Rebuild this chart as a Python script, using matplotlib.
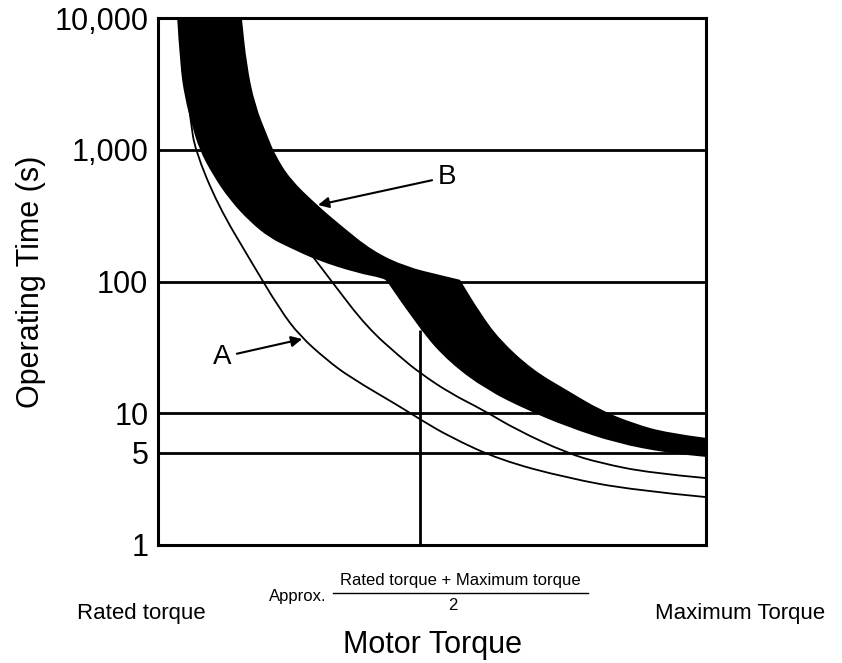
import matplotlib
matplotlib.use("Agg")
import matplotlib.pyplot as plt
from matplotlib.path import Path
from matplotlib.patches import PathPatch
import numpy as np

plt.rcParams['font.family'] = ['Liberation Sans', 'DejaVu Sans']

# x: 0 = rated torque, 100 = maximum torque ; y: operating time (s)
# band B, upper part (above 100 s): outer and inner edges
band_top_outer_x = [15.3, 16.2, 17.7, 20.1, 21.4, 24.1, 29.0, 33.2, 39.2, 45.4, 51.5, 55.1]
band_top_outer_y = [10000, 4400, 2190, 1230, 912, 600, 381, 270, 170, 129, 112, 103]
band_top_inner_x = [3.5, 4.0, 4.9, 6.2, 7.5, 10.0, 13.1, 16.8, 20.4, 24.1, 29.0, 36.3, 41.1, 41.8]
band_top_inner_y = [10000, 4400, 2470, 1540, 1010, 643, 415, 283, 214, 180, 145, 116, 106, 100]
# band B, lower part (below 100 s)
band_low_outer_x = [55.1, 58.8, 62.4, 68.4, 74.6, 80.7, 86.7, 92.9, 100]
band_low_outer_y = [103, 57.7, 36, 21.3, 15.0, 10.6, 8.4, 7.1, 6.5]
band_low_inner_x = [41.8, 47.8, 53.3, 60.0, 67.3, 74.6, 83.8, 92.9, 100]
band_low_inner_y = [100, 42.8, 24, 15, 10.6, 7.9, 5.9, 5.0, 4.66]

curve_a_x = [4.0, 4.8, 6.0, 6.75, 10.9, 16.8, 22.3, 25.9, 30.8, 35.0, 44.2, 47.8, 53.3,
             62.4, 74.6, 86.7, 100]
curve_a_y = [10000, 4000, 1625, 1000, 381, 146, 60.8, 38.6, 25.4, 18.8, 11.2, 9.0, 6.6,
             4.42, 3.23, 2.61, 2.31]
curve_c_x = [8, 12, 18, 24, 29.0, 31.9, 38.1, 44.2, 47.8, 53.3, 59.3, 65.5, 74.6, 80.7, 89.8, 100]
curve_c_y = [10000, 2000, 600, 260, 141, 97.5, 45.1, 26.7, 20.2, 14.2, 10.6, 7.46, 4.99, 4.19,
             3.52, 3.22]

mid_x = 47.8
mid_top = 42.8

yticks = [1, 5, 10, 100, 1000, 10000]
ytick_labels = ["1", "5", "10", "100", "1,000", "10,000"]


def smooth_codes(xs, ys, first=True):
    # quadratic bezier through midpoints, the read points act as control points
    pts = list(zip(xs, ys))
    verts, codes = [], []
    verts.append(pts[0])
    codes.append(Path.MOVETO if first else Path.LINETO)
    for i in range(1, len(pts) - 1):
        if i == 1:
            m0 = ((pts[0][0] + pts[1][0]) / 2, np.sqrt(pts[0][1] * pts[1][1]))
            verts.append(m0)
            codes.append(Path.LINETO)
        m = ((pts[i][0] + pts[i + 1][0]) / 2, np.sqrt(pts[i][1] * pts[i + 1][1]))
        if i == len(pts) - 2:
            m = pts[-1]
        verts += [pts[i], m]
        codes += [Path.CURVE3, Path.CURVE3]
    if len(pts) == 2:
        verts.append(pts[1])
        codes.append(Path.LINETO)
    return verts, codes


fig = plt.figure(figsize=(8.42, 6.63), dpi=100)
ax = fig.add_axes([158/842, 118/663, 548/842, 527/663])

ax.set_yscale("log")
ax.set_xlim(0, 100)
ax.set_ylim(1, 10000)

for v in yticks[1:-1]:
    ax.axhline(v, color="black", lw=2, zorder=1)
ax.vlines(mid_x, 1, mid_top, color="black", lw=2, zorder=1)

for cx, cy in [(curve_a_x, curve_a_y), (curve_c_x, curve_c_y)]:
    v, c = smooth_codes(cx, cy)
    ax.add_patch(PathPatch(Path(v, c), fill=False, edgecolor="black", lw=1.3, zorder=2))

verts, codes = [], []
for xs, ys, first in [(band_top_outer_x, band_top_outer_y, True),
                      (band_low_outer_x, band_low_outer_y, False),
                      (band_low_inner_x[::-1], band_low_inner_y[::-1], False),
                      (band_top_inner_x[::-1], band_top_inner_y[::-1], False)]:
    v, c = smooth_codes(xs, ys, first)
    verts += v
    codes += c
verts.append(verts[0])
codes.append(Path.CLOSEPOLY)
ax.add_patch(PathPatch(Path(verts, codes), facecolor="black", edgecolor="none", zorder=3))

ax.annotate("B", xy=(29.2, 381), xytext=(52.7, 621), ha="center", va="center",
            fontsize=20, arrowprops=dict(arrowstyle="-|>", color="black", lw=1.5,
                                         mutation_scale=16, shrinkA=2, shrinkB=0), zorder=5)
ax.annotate("A", xy=(26.3, 36.6), xytext=(11.7, 26.7), ha="center", va="center",
            fontsize=20, arrowprops=dict(arrowstyle="-|>", color="black", lw=1.5,
                                         mutation_scale=16, shrinkA=2, shrinkB=0), zorder=5)

ax.set_yticks(yticks)
ax.set_yticklabels(ytick_labels)
ax.yaxis.set_minor_locator(matplotlib.ticker.NullLocator())
ax.set_xticks([])
ax.tick_params(axis="y", length=0, pad=7, labelsize=22)
for s in ax.spines.values():
    s.set_linewidth(2.2)

ax.set_ylabel("Operating Time (s)", fontsize=22, labelpad=6)

fig.text(141.5/842, 1 - 614/663, "Rated torque", ha="center", va="center", fontsize=16)
fig.text(740/842, 1 - 614/663, "Maximum Torque", ha="center", va="center", fontsize=16)
fig.text(432/842, 1 - 645/663, "Motor Torque", ha="center", va="center", fontsize=22)
fig.text(297.5/842, 1 - 597/663, "Approx.", ha="center", va="center", fontsize=12)
fig.text(460.5/842, 1 - 580/663, "Rated torque + Maximum torque", ha="center", va="center",
         fontsize=12)
fig.add_artist(plt.Line2D([333/842, 588/842], [1 - 593/663, 1 - 593/663], color="black", lw=1))
fig.text(452.5/842, 1 - 606/663, "2", ha="center", va="center", fontsize=12)

fig.savefig("out.png", dpi=100)
